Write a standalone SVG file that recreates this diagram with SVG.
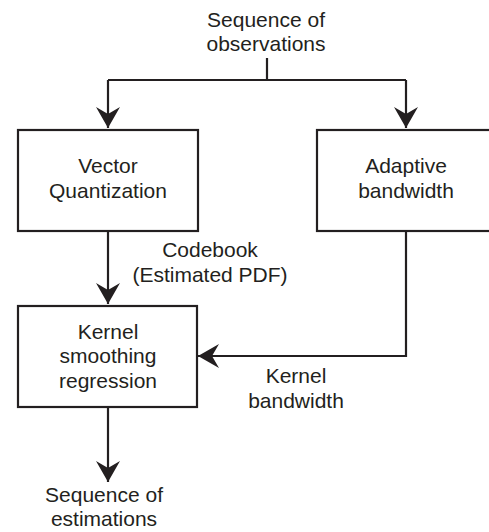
<svg xmlns="http://www.w3.org/2000/svg" width="489" height="532" viewBox="0 0 489 532">
<style>
text{font-family:"Liberation Sans",Arial,sans-serif;font-size:21px;fill:#231f20;text-anchor:middle}
.box{fill:#fff;stroke:#231f20;stroke-width:2.2}
.ln{fill:none;stroke:#231f20;stroke-width:2.2}
</style>
<defs>
<marker id="ah" viewBox="0 0 22 24" refX="21" refY="12" markerWidth="22" markerHeight="24" markerUnits="userSpaceOnUse" orient="auto">
<path d="M21,12 L0,0 L7,12 L0,24 Z" fill="#231f20"/>
</marker>
</defs>
<g id="connectors">
<path class="ln" d="M267,58 V80 M108,80 H406"/>
<path class="ln" d="M108,80 V128" marker-end="url(#ah)"/>
<path class="ln" d="M406,80 V128" marker-end="url(#ah)"/>
<path class="ln" d="M108,231 V304" marker-end="url(#ah)"/>
<path class="ln" d="M406,231 V356 H198" marker-end="url(#ah)"/>
<path class="ln" d="M108,407 V482" marker-end="url(#ah)"/>
</g>
<g id="input"><text x="266" y="27">Sequence of</text><text x="266" y="51">observations</text></g>
<g id="vq"><rect class="box" x="18" y="130" width="180" height="101"/><text x="108" y="173">Vector</text><text x="108" y="198">Quantization</text></g>
<g id="ab"><rect class="box" x="317" y="130" width="175" height="101"/><text x="406" y="173">Adaptive</text><text x="406" y="198">bandwidth</text></g>
<g id="ksr"><rect class="box" x="18" y="306" width="179" height="101"/><text x="108" y="339">Kernel</text><text x="108" y="363">smoothing</text><text x="108" y="388">regression</text></g>
<g id="lbl-codebook"><text x="210" y="257">Codebook</text><text x="210" y="282">(Estimated PDF)</text></g>
<g id="lbl-kb"><text x="296" y="383">Kernel</text><text x="296" y="408">bandwidth</text></g>
<g id="output"><text x="104" y="502">Sequence of</text><text x="104" y="526">estimations</text></g>
</svg>
